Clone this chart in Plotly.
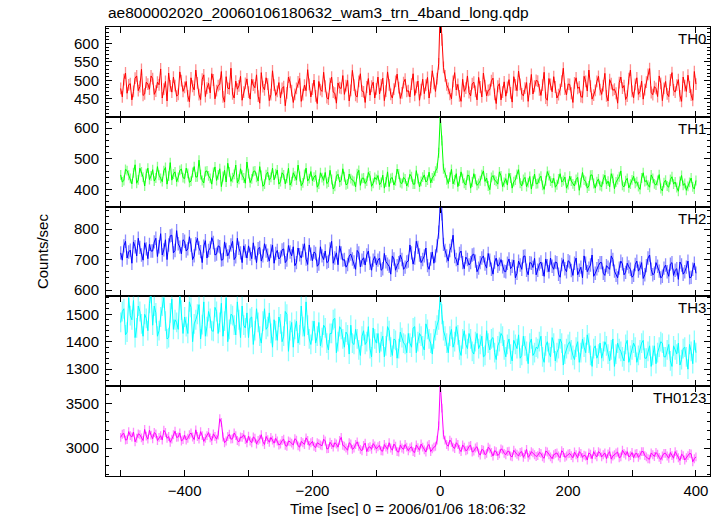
import numpy as np
import plotly.graph_objects as go
from plotly.subplots import make_subplots

# time bins: 2.5 s from -500 to 400 s
time_sec = np.arange(-500, 400.1, 2.5)

# values on whole 5-s marks (-500, -495, ..., 400)
th0 = [478, 502, 465, 491, 470, 512, 483, 459, 495, 476,
       505, 471, 488, 452, 497, 520, 468, 486, 462, 499,
       481, 458, 507, 474, 493, 448, 515, 479, 466, 501,
       472, 489, 455, 510, 477, 463, 498, 485, 446, 492,
       468, 503, 480, 457, 521, 474, 490, 461, 487, 470,
       452, 483, 466, 495, 440, 478, 505, 461, 472, 489,
       476, 458, 497, 470, 484, 449, 509, 465, 493, 478,
       462, 500, 473, 487, 455, 518, 469, 482, 460, 495,
       477, 463, 506, 471, 488, 452, 497, 480, 466, 503,
       472, 490, 459, 498, 475, 464, 508, 481, 492, 505,
       700,
       535, 488, 462, 497, 474, 458, 503, 479, 467, 491,
       470, 508, 455, 486, 473, 499, 462, 484, 447, 496,
       481, 466, 510, 472, 489, 458, 494, 477, 463, 500,
       474, 487, 452, 505, 469, 482, 461, 498, 476, 490,
       465, 493, 478, 456, 511, 471, 484, 460, 497, 475,
       486, 458, 502, 473, 465, 494, 479, 448, 505, 470,
       489, 462, 498, 475, 516, 467, 483, 456, 492, 478,
       463, 501, 474, 487, 458, 509, 470, 482, 446, 490]
# values on half marks (-497.5, -492.5, ..., 397.5)
th0_half = [455, 520, 488, 447, 506, 472, 530, 463, 490, 512,
            462, 495, 531, 476, 444, 485, 509, 457, 523, 470,
            497, 442, 484, 528, 461, 503, 456, 492, 518, 450,
            486, 524, 441, 479, 533, 452, 476, 511, 468, 504,
            449, 487, 515, 438, 483, 507, 445, 526, 459, 494,
            478, 431, 509, 472, 462, 496, 443, 487, 529, 455,
            501, 437, 475, 522, 453, 491, 468, 438, 480, 513,
            486, 444, 527, 459, 497, 471, 440, 505, 484, 452,
            509, 488, 445, 523, 462, 476, 517, 451, 494, 470,
            455, 518, 481, 446, 503, 487, 452, 526, 470, 545,
            610, 512, 478, 450, 521, 489, 443, 470, 512, 458,
            495, 447, 482, 520, 458, 475, 506, 437, 491, 468,
            457, 502, 441, 488, 525, 463, 479, 443, 516, 484,
            498, 459, 522, 446, 489, 510, 452, 475, 533, 461,
            489, 440, 507, 482, 454, 497, 528, 449, 473, 511,
            462, 519, 444, 491, 476, 438, 509, 486, 457, 528,
            453, 507, 470, 449, 495, 532, 461, 478, 512, 445,
            497, 456, 521, 468, 502, 443, 486, 514, 460, 524]

th1 = [448, 430, 462, 437, 455, 421, 470, 441, 452, 433,
       465, 438, 447, 426, 472, 444, 431, 458, 440, 467,
       436, 453, 428, 475, 442, 449, 422, 461, 437, 456,
       430, 468, 443, 425, 458, 439, 480, 434, 447, 421,
       452, 435, 461, 428, 446, 418, 457, 440, 432, 464,
       426, 448, 437, 415, 455, 431, 443, 422, 470, 436,
       429, 447, 418, 439, 456, 425, 433, 411, 450, 430,
       442, 419, 436, 427, 452, 414, 438, 428, 445, 421,
       433, 416, 447, 425, 410, 439, 429, 451, 420, 435,
       424, 442, 418, 436, 427, 448, 431, 422, 445, 470,
       640,
       468, 432, 441, 419, 452, 428, 437, 415, 446, 425,
       434, 420, 449, 427, 412, 440, 431, 418, 445, 424,
       415, 438, 426, 450, 421, 433, 410, 443, 428, 419,
       437, 414, 429, 446, 422, 408, 435, 425, 441, 417,
       428, 412, 440, 423, 431, 405, 447, 420, 426, 413,
       434, 418, 409, 437, 425, 442, 414, 429, 406, 432,
       421, 410, 438, 426, 415, 448, 419, 430, 404, 423,
       412, 433, 418, 407, 427, 414, 398, 424, 409, 430]
th1_half = [425, 466, 447, 419, 481, 432, 458, 412, 470, 445,
            428, 475, 437, 462, 418, 488, 451, 426, 463, 439,
            470, 424, 456, 441, 496, 430, 459, 445, 418, 474,
            448, 410, 463, 486, 427, 450, 422, 468, 438, 490,
            423, 459, 440, 475, 411, 449, 431, 470, 452, 418,
            455, 419, 470, 426, 444, 480, 413, 450, 428, 459,
            441, 408, 455, 430, 420, 463, 402, 444, 425, 468,
            416, 451, 430, 409, 463, 437, 420, 456, 411, 440,
            446, 424, 405, 458, 437, 415, 467, 423, 440, 412,
            450, 418, 462, 409, 441, 425, 457, 438, 460, 520,
            560, 455, 420, 466, 432, 410, 458, 421, 447, 405,
            452, 414, 429, 461, 438, 400, 446, 427, 458, 410,
            436, 453, 405, 431, 465, 412, 440, 423, 402, 451,
            420, 444, 401, 459, 428, 437, 416, 452, 430, 405,
            444, 419, 433, 398, 456, 427, 412, 448, 405, 435,
            410, 447, 428, 452, 403, 433, 461, 409, 437, 418,
            444, 426, 401, 455, 430, 408, 437, 415, 449, 396,
            431, 408, 442, 425, 395, 446, 420, 411, 438, 402]

th2 = [722, 745, 705, 731, 758, 712, 740, 698, 735, 750,
       728, 770, 742, 715, 765, 748, 780, 730, 752, 719,
       760, 735, 748, 712, 770, 726, 744, 705, 738, 756,
       718, 742, 700, 733, 725, 760, 709, 737, 690, 728,
       745, 703, 722, 736, 695, 752, 714, 728, 688, 730,
       708, 735, 698, 725, 742, 690, 716, 730, 702, 748,
       696, 720, 685, 712, 728, 694, 760, 705, 683, 722,
       700, 684, 718, 692, 730, 676, 706, 715, 688, 698,
       682, 705, 670, 693, 678, 712, 665, 690, 700, 675,
       695, 722, 705, 740, 690, 712, 680, 702, 688, 745,
       880,
       750, 712, 730, 780, 700, 720, 690, 708, 682, 715,
       695, 672, 705, 685, 720, 668, 692, 678, 700, 662,
       688, 670, 698, 655, 682, 710, 665, 690, 674, 650,
       685, 668, 702, 660, 678, 692, 652, 684, 670, 696,
       664, 688, 650, 675, 712, 660, 682, 645, 670, 690,
       655, 680, 668, 700, 648, 672, 686, 658, 676, 642,
       684, 662, 690, 650, 705, 668, 655, 678, 640, 672,
       660, 685, 648, 670, 692, 652, 675, 640, 668, 655]
th2_half = [698, 760, 725, 688, 742, 770, 715, 755, 703, 728,
            758, 710, 785, 732, 700, 778, 722, 795, 741, 765,
            728, 775, 700, 752, 738, 690, 762, 730, 772, 715,
            745, 698, 758, 712, 748, 700, 770, 722, 745, 705,
            718, 755, 690, 740, 712, 728, 695, 748, 720, 702,
            732, 690, 746, 712, 680, 738, 705, 752, 684, 718,
            725, 678, 742, 700, 690, 735, 688, 722, 745, 698,
            675, 712, 702, 668, 722, 698, 682, 728, 665, 710,
            698, 665, 720, 685, 652, 702, 680, 715, 668, 692,
            748, 685, 760, 715, 700, 738, 668, 725, 712, 790,
            850, 730, 695, 745, 710, 682, 728, 670, 700, 690,
            718, 660, 690, 712, 672, 698, 652, 705, 685, 676,
            660, 702, 678, 640, 695, 668, 712, 650, 688, 704,
            665, 692, 645, 680, 705, 668, 690, 642, 700, 660,
            692, 648, 705, 665, 640, 688, 672, 715, 655, 680,
            690, 648, 675, 712, 662, 640, 695, 650, 688, 668,
            648, 695, 672, 638, 680, 715, 650, 690, 662, 645,
            682, 645, 690, 665, 635, 682, 660, 695, 642, 688]

th3 = [1470, 1520, 1435, 1495, 1550, 1450, 1510, 1420, 1485, 1540,
       1460, 1505, 1440, 1530, 1475, 1415, 1555, 1480, 1445, 1515,
       1490, 1430, 1525, 1465, 1500, 1410, 1545, 1455, 1485, 1438,
       1510, 1470, 1420, 1560, 1445, 1495, 1425, 1480, 1530, 1450,
       1415, 1490, 1440, 1470, 1395, 1520, 1455, 1430, 1480, 1405,
       1465, 1420, 1500, 1440, 1380, 1475, 1425, 1455, 1545, 1410,
       1440, 1395, 1470, 1415, 1450, 1370, 1430, 1485, 1400, 1445,
       1380, 1425, 1460, 1390, 1410, 1350, 1440, 1400, 1375, 1450,
       1395, 1360, 1420, 1385, 1440, 1350, 1405, 1375, 1415, 1390,
       1430, 1380, 1455, 1400, 1420, 1370, 1445, 1395, 1410, 1460,
       1570,
       1440, 1395, 1420, 1380, 1455, 1370, 1410, 1390, 1430, 1365,
       1400, 1375, 1420, 1350, 1395, 1410, 1360, 1385, 1430, 1370,
       1390, 1355, 1405, 1375, 1340, 1420, 1365, 1395, 1350, 1380,
       1400, 1345, 1385, 1360, 1415, 1330, 1375, 1395, 1355, 1390,
       1370, 1335, 1400, 1360, 1380, 1425, 1350, 1375, 1340, 1395,
       1365, 1385, 1330, 1410, 1355, 1375, 1345, 1390, 1325, 1370,
       1380, 1350, 1395, 1340, 1365, 1310, 1385, 1360, 1400, 1345,
       1370, 1330, 1385, 1355, 1315, 1375, 1345, 1390, 1320, 1360]
th3_half = [1510, 1425, 1560, 1480, 1415, 1530, 1465, 1500, 1440, 1575,
            1530, 1420, 1490, 1560, 1410, 1505, 1445, 1470, 1575, 1430,
            1455, 1545, 1400, 1480, 1535, 1462, 1420, 1510, 1440, 1525,
            1430, 1540, 1475, 1400, 1500, 1460, 1545, 1415, 1460, 1505,
            1485, 1390, 1520, 1420, 1475, 1445, 1505, 1380, 1440, 1490,
            1400, 1510, 1365, 1470, 1445, 1395, 1530, 1420, 1460, 1390,
            1475, 1420, 1385, 1460, 1395, 1430, 1480, 1360, 1455, 1410,
            1435, 1355, 1395, 1445, 1370, 1420, 1390, 1455, 1345, 1410,
            1430, 1400, 1345, 1455, 1380, 1410, 1340, 1435, 1395, 1360,
            1395, 1450, 1360, 1430, 1385, 1465, 1410, 1355, 1440, 1480,
            1500, 1420, 1360, 1445, 1400, 1425, 1350, 1440, 1375, 1410,
            1355, 1430, 1390, 1345, 1440, 1370, 1415, 1335, 1400, 1420,
            1345, 1410, 1330, 1390, 1425, 1350, 1385, 1320, 1410, 1360,
            1375, 1420, 1325, 1400, 1345, 1395, 1360, 1410, 1315, 1375,
            1400, 1350, 1380, 1325, 1410, 1360, 1395, 1310, 1385, 1355,
            1340, 1400, 1355, 1370, 1310, 1395, 1365, 1330, 1405, 1350,
            1395, 1325, 1370, 1405, 1340, 1385, 1350, 1320, 1380, 1395,
            1345, 1390, 1310, 1370, 1395, 1335, 1380, 1300, 1365, 1405]

th0123 = [3120, 3165, 3095, 3140, 3180, 3110, 3150, 3085, 3135, 3200,
          3105, 3160, 3120, 3090, 3175, 3130, 3100, 3190, 3125, 3080,
          3145, 3110, 3170, 3095, 3130, 3185, 3075, 3140, 3115, 3160,
          3100, 3330, 3125, 3080, 3155, 3105, 3140, 3070, 3120, 3095,
          3135, 3060, 3110, 3085, 3150, 3040, 3095, 3120, 3055, 3080,
          3045, 3100, 3020, 3070, 3035, 3090, 3010, 3060, 3115, 3030,
          3075, 3005, 3050, 3025, 3080, 2995, 3040, 3060, 3010, 3120,
          3020, 2975, 3045, 3000, 3070, 2985, 3030, 2960, 3015, 3050,
          2990, 3030, 2965, 3010, 3060, 2975, 3020, 2955, 3000, 3040,
          2970, 3015, 2950, 3005, 3045, 2980, 3025, 2960, 3010, 3090,
          3720,
          3150, 3040, 3090, 3010, 3060, 2985, 3035, 2970, 3020, 2955,
          3000, 2945, 2985, 2925, 3010, 2950, 2970, 2915, 2990, 2940,
          2960, 2910, 2975, 2930, 2950, 2895, 2985, 2920, 2945, 2905,
          2950, 2900, 2965, 2925, 2880, 2940, 2910, 2970, 2895, 2935,
          2915, 2955, 2890, 2940, 2920, 2865, 2930, 2960, 2900, 2945,
          2925, 2880, 2960, 2910, 2945, 2890, 2975, 2920, 2900, 2950,
          2935, 2895, 2960, 2915, 2880, 2945, 2905, 2930, 2870, 2940,
          2910, 2950, 2885, 2925, 2860, 2915, 2890, 2940, 2845, 2900]
th0123_half = [3155, 3090, 3185, 3125, 3070, 3160, 3115, 3210, 3100, 3145,
               3175, 3085, 3140, 3200, 3110, 3065, 3150, 3120, 3170, 3095,
               3090, 3150, 3125, 3205, 3100, 3140, 3110, 3175, 3085, 3130,
               3145, 3290, 3060, 3130, 3100, 3170, 3085, 3125, 3150, 3060,
               3080, 3125, 3045, 3100, 3070, 3130, 3065, 3090, 3110, 3035,
               3085, 3030, 3080, 3055, 3105, 3025, 3075, 3040, 3085, 3060,
               3020, 3060, 3035, 3100, 2990, 3065, 3010, 3045, 3085, 3030,
               3000, 3060, 2985, 3040, 3020, 2970, 3055, 3005, 2985, 3025,
               3015, 2970, 3040, 2985, 3000, 3045, 2960, 3035, 2985, 3010,
               3000, 2960, 3035, 2975, 3010, 2955, 3040, 2990, 3020, 3250,
               3450, 3090, 3020, 3065, 2995, 3040, 2960, 3010, 2980, 3030,
               2965, 3015, 2920, 2975, 2940, 2990, 2910, 2960, 2935, 2980,
               2925, 2965, 2900, 2945, 2910, 2960, 2930, 2895, 2960, 2925,
               2915, 2940, 2885, 2955, 2900, 2925, 2945, 2890, 2950, 2910,
               2940, 2890, 2925, 2960, 2895, 2910, 2945, 2880, 2925, 2960,
               2900, 2945, 2935, 2875, 2925, 2955, 2900, 2940, 2960, 2915,
               2890, 2940, 2920, 2960, 2900, 2875, 2925, 2950, 2895, 2910,
               2940, 2885, 2915, 2960, 2890, 2930, 2865, 2915, 2935, 2880]

# 1-sigma errors per bin for each band (counts/sec)
errors = [16, 16, 22, 36, 50]

band_names = ["TH0", "TH1", "TH2", "TH3", "TH0123"]


def merge(whole, half):
    out = []
    for k, v in enumerate(whole):
        out.append(v)
        if k < len(half):
            out.append(half[k])
    return out


series = [merge(th0, th0_half), merge(th1, th1_half), merge(th2, th2_half),
          merge(th3, th3_half), merge(th0123, th0123_half)]
colors = ["#ff0000", "#00ff00", "#0000ff", "#00ffff", "#ff00ff"]
light = ["rgba(255,0,0,0.45)", "rgba(0,255,0,0.45)", "rgba(0,0,255,0.45)",
         "rgba(0,255,255,0.45)", "rgba(255,0,255,0.45)"]
y_ranges = [[401, 645], [345, 637], [579, 874], [1238, 1565], [2685, 3697]]
y_major = [[450, 500, 550, 600], [400, 500, 600], [600, 700, 800],
           [1300, 1400, 1500], [3000, 3500]]
y_minor = [10, 20, 20, 20, 100]

x_tickvals = [-500, -400, -300, -200, -100, 0, 100, 200, 300, 400]
x_ticktext = ["", "\u2212400", "", "\u2212200", "", "0", "", "200", "", "400"]

FONT = "Liberation Sans, Arial, Helvetica, sans-serif"

fig = make_subplots(rows=5, cols=1, shared_xaxes=True, vertical_spacing=0)

for i, (name, vals) in enumerate(zip(band_names, series)):
    r = i + 1
    fig.add_trace(go.Scatter(
        x=time_sec, y=vals, mode="lines", name=name,
        line=dict(color=colors[i], width=1),
        error_y=dict(type="constant", value=errors[i], color=light[i],
                     thickness=1.3, width=0),
        showlegend=False), row=r, col=1)
    fig.update_yaxes(range=y_ranges[i], tickvals=y_major[i],
                     ticks="inside", ticklen=6, tickwidth=1, tickcolor="black",
                     minor=dict(dtick=y_minor[i], ticks="inside", ticklen=3,
                                tickcolor="black", tickwidth=1, tick0=0),
                     showline=True, linecolor="black", linewidth=1,
                     mirror="allticks", showgrid=False, zeroline=False,
                     ticklabelstandoff=3, automargin=False,
                     tickfont=dict(size=15, color="black", family=FONT),
                     row=r, col=1)
    fig.update_xaxes(range=[-523, 422], tickvals=x_tickvals,
                     ticktext=x_ticktext if r == 5 else [""] * len(x_tickvals),
                     showticklabels=(r == 5),
                     ticks="inside", ticklen=6, tickwidth=1, tickcolor="black",
                     showline=True, linecolor="black", linewidth=1,
                     mirror="allticks", showgrid=False, zeroline=False,
                     automargin=False,
                     tickfont=dict(size=15, color="black", family=FONT),
                     row=r, col=1)
    xref = "x domain" if r == 1 else f"x{r} domain"
    yref = "y domain" if r == 1 else f"y{r} domain"
    fig.add_annotation(text=name, xref=xref, yref=yref, x=0.997, y=1.0,
                       xanchor="right", yanchor="top", showarrow=False,
                       font=dict(size=15, color="black", family=FONT),
                       yshift=-1)

fig.update_xaxes(ticklabelstandoff=1, row=5, col=1)

fig.add_annotation(text="Time [sec] 0 = 2006/01/06 18:06:32",
                   xref="paper", yref="paper", x=0.5, y=0, yshift=-32,
                   xanchor="center", yanchor="middle", showarrow=False,
                   font=dict(size=15, color="black", family=FONT))

fig.add_annotation(text="Counts/sec", xref="paper", yref="paper",
                   x=-0.105, y=0.5, textangle=-90, showarrow=False,
                   xanchor="center", yanchor="middle",
                   font=dict(size=15, color="black", family=FONT))

fig.update_layout(
    width=722, height=516,
    margin=dict(l=106, r=12, t=27, b=40, autoexpand=False),
    paper_bgcolor="white", plot_bgcolor="white",
    title=dict(text="ae800002020_20060106180632_wam3_trn_4band_long.qdp",
               x=108 / 722, xanchor="left", y=1 - 13 / 516, yanchor="middle",
               font=dict(size=15.5, color="black", family=FONT)),
)

fig.write_html("out.html", config={"displayModeBar": False},
               post_script="document.body.style.margin='0';"
                           "document.body.style.overflow='hidden';")
